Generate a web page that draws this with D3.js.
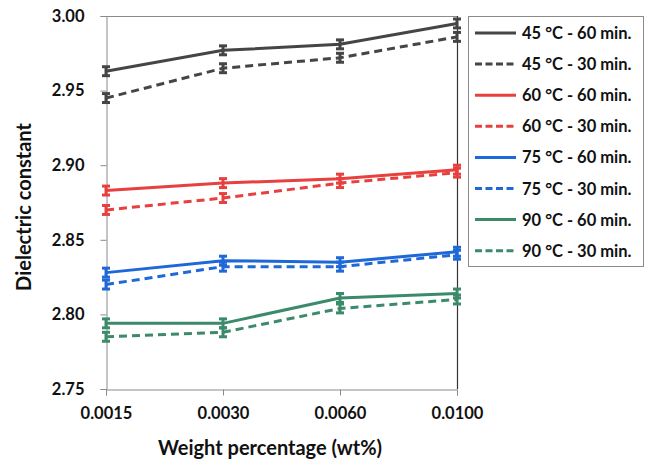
<!DOCTYPE html>
<html>
<head>
<meta charset="utf-8">
<script src="https://cdn.jsdelivr.net/npm/d3@7"></script>
<style>
  html, body { margin: 0; padding: 0; background: #fff; }
  svg { display: block; font-family: Lato, "Open Sans", sans-serif; font-weight: bold; }
</style>
</head>
<body>
<svg id="chart" width="651" height="463"></svg>
<script>
// Weight percentage categories (x axis)
const categories = ["0.0015", "0.0030", "0.0060", "0.0100"];
const yTicks = [2.75, 2.80, 2.85, 2.90, 2.95, 3.00];

// Series labels, dielectric constant values and error half-widths
const seriesNames = [
  "45 °C - 60 min.", "45 °C - 30 min.",
  "60 °C - 60 min.", "60 °C - 30 min.",
  "75 °C - 60 min.", "75 °C - 30 min.",
  "90 °C - 60 min.", "90 °C - 30 min."
];
const s45_60 = [2.963, 2.977, 2.981, 2.995];
const s45_30 = [2.945, 2.965, 2.972, 2.986];
const s60_60 = [2.883, 2.888, 2.891, 2.897];
const s60_30 = [2.870, 2.878, 2.888, 2.895];
const s75_60 = [2.828, 2.836, 2.835, 2.842];
const s75_30 = [2.820, 2.832, 2.832, 2.840];
const s90_60 = [2.794, 2.794, 2.811, 2.814];
const s90_30 = [2.785, 2.788, 2.804, 2.810];
const errors = [0.003, 0.003, 0.003, 0.003, 0.003, 0.003, 0.003, 0.003];

const seriesValues = [s45_60, s45_30, s60_60, s60_30, s75_60, s75_30, s90_60, s90_30];
const seriesColors = ["#454545", "#454545", "#e8403f", "#e8403f", "#1f68d8", "#1f68d8", "#3b8b6b", "#3b8b6b"];
const seriesDashed = [false, true, false, true, false, true, false, true];

const series = seriesNames.map((name, i) => ({
  name,
  values: seriesValues[i],
  err: errors[i],
  color: seriesColors[i],
  dashed: seriesDashed[i]
}));

const svg = d3.select("#chart");
const plot = { left: 106, right: 457, top: 16, bottom: 389 };
const tickFont = 16.5;
const titleFont = 20;

const x = d3.scalePoint().domain(categories).range([plot.left, plot.right]);
const y = d3.scaleLinear().domain([2.75, 3.00]).range([plot.bottom, plot.top]);

// Frame: top and right border
svg.append("line")
  .attr("x1", plot.left).attr("x2", plot.right)
  .attr("y1", plot.top + 0.5).attr("y2", plot.top + 0.5)
  .attr("stroke", "#8a8a8a").attr("stroke-width", 1);
svg.append("line")
  .attr("x1", plot.right + 0.5).attr("x2", plot.right + 0.5)
  .attr("y1", plot.top).attr("y2", plot.bottom)
  .attr("stroke", "#333").attr("stroke-width", 1.2);

// Y axis
const yAxis = svg.append("g")
  .attr("transform", `translate(${plot.left + 0.5},0)`)
  .call(d3.axisLeft(y).tickValues(yTicks).tickFormat(d3.format(".2f")).tickSize(6).tickPadding(16));
yAxis.select(".domain").attr("stroke", "#8a8a8a");
yAxis.selectAll(".tick line").attr("stroke", "#8a8a8a");
yAxis.selectAll(".tick text")
  .attr("font-size", tickFont).attr("font-weight", "bold").attr("fill", "#111")
  .attr("font-family", "Lato, 'Open Sans', sans-serif");

// X axis
const xAxis = svg.append("g")
  .attr("transform", `translate(0,${plot.bottom + 0.5})`)
  .call(d3.axisBottom(x).tickSize(6).tickPadding(12));
xAxis.select(".domain").attr("stroke", "#8a8a8a");
xAxis.selectAll(".tick line").attr("stroke", "#8a8a8a");
xAxis.selectAll(".tick text")
  .attr("font-size", tickFont).attr("font-weight", "bold").attr("fill", "#111")
  .attr("font-family", "Lato, 'Open Sans', sans-serif");

// Axis titles
svg.append("text")
  .attr("x", 270).attr("y", 455)
  .attr("text-anchor", "middle")
  .attr("font-size", titleFont).attr("fill", "#111")
  .text("Weight percentage (wt%)");
svg.append("text")
  .attr("transform", "translate(31,207) rotate(-90)")
  .attr("text-anchor", "middle")
  .attr("font-size", titleFont).attr("fill", "#111")
  .text("Dielectric constant");

// Lines, drawn back to front
const line = d3.line()
  .x((d, i) => x(categories[i]))
  .y(d => y(d));

const g = svg.append("g");
series.slice().reverse().forEach(s => {
  // error bars
  const eb = g.append("g").attr("stroke", s.color);
  s.values.forEach((v, i) => {
    const cx = x(categories[i]);
    eb.append("line")
      .attr("x1", cx).attr("x2", cx)
      .attr("y1", y(v + s.err)).attr("y2", y(v - s.err))
      .attr("stroke-width", 3);
    [v + s.err, v - s.err].forEach(e => {
      eb.append("line")
        .attr("x1", cx - 4).attr("x2", cx + 4)
        .attr("y1", y(e)).attr("y2", y(e))
        .attr("stroke-width", 3);
    });
  });
  g.append("path")
    .datum(s.values)
    .attr("d", line)
    .attr("fill", "none")
    .attr("stroke", s.color)
    .attr("stroke-width", 3)
    .attr("stroke-dasharray", s.dashed ? "8,5" : null);
});

// Legend
const legend = svg.append("g");
legend.append("rect")
  .attr("x", 468.5).attr("y", 16.5)
  .attr("width", 175).attr("height", 250)
  .attr("fill", "#fff").attr("stroke", "#8a8a8a").attr("stroke-width", 1);
series.forEach((s, i) => {
  const ly = 33 + i * 31.1;
  legend.append("line")
    .attr("x1", 475).attr("x2", 516)
    .attr("y1", ly).attr("y2", ly)
    .attr("stroke", s.color).attr("stroke-width", 3)
    .attr("stroke-dasharray", s.dashed ? "7,3.5" : null);
  legend.append("text")
    .attr("x", 522).attr("y", ly + 6)
    .attr("font-size", tickFont).attr("fill", "#111")
    .text(s.name);
});
</script>
</body>
</html>
